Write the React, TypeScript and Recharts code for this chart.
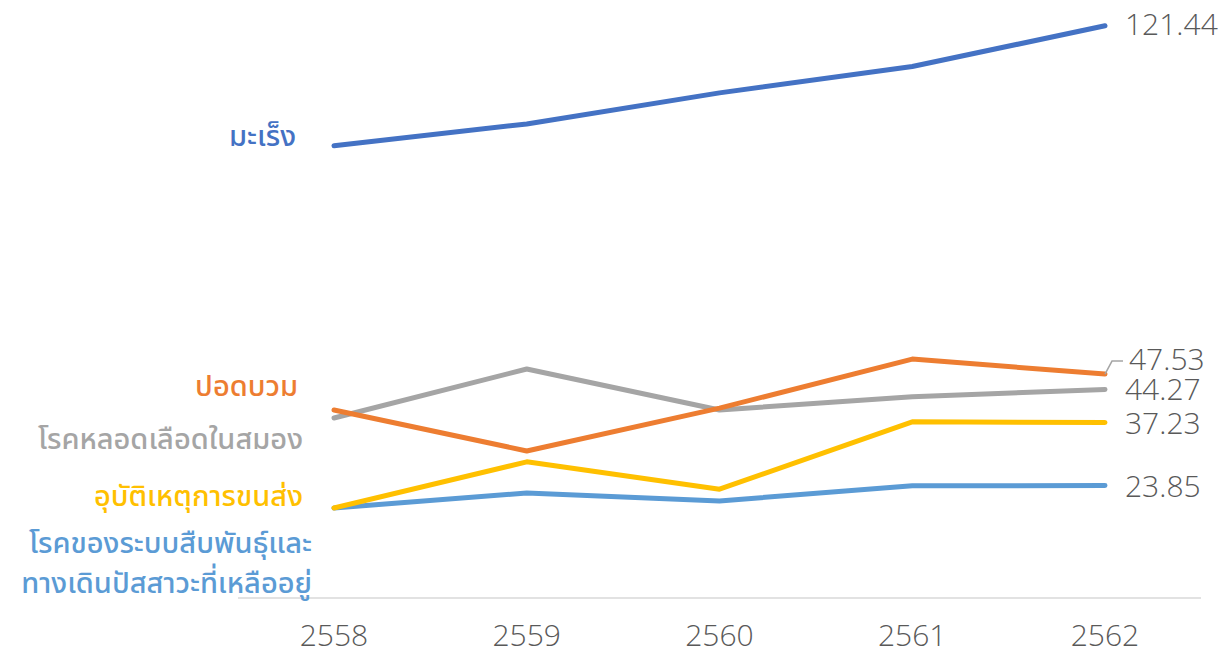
import { LineChart, Line, XAxis, YAxis, LabelList } from 'recharts'

const years = ['2558', '2559', '2560', '2561', '2562']
const cancer = [96.0, 100.6, 107.2, 112.8, 121.44]
const pneumonia = [39.9, 31.2, 40.3, 50.7, 47.53]
const stroke = [38.2, 48.6, 39.9, 42.7, 44.27]
const transportAccident = [19.1, 28.9, 23.1, 37.4, 37.23]
const genitourinary = [19.1, 22.3, 20.6, 23.8, 23.85]

const seriesNames = {
  cancer: ['มะเร็ง'],
  pneumonia: ['ปอดบวม'],
  stroke: ['โรคหลอดเลือดในสมอง'],
  transportAccident: ['อุบัติเหตุการขนส่ง'],
  genitourinary: ['โรคของระบบสืบพันธุ์และ', 'ทางเดินปัสสาวะที่เหลืออยู่'],
}

const data = years.map((year, i) => ({
  year,
  cancer: cancer[i],
  pneumonia: pneumonia[i],
  stroke: stroke[i],
  transportAccident: transportAccident[i],
  genitourinary: genitourinary[i],
}))

// label placement, tuned by eye
const series = [
  { key: 'genitourinary', color: '#5B9BD5', left: { dx: -22, dy: 36 }, right: { dx: 20, dy: 0 } },
  { key: 'transportAccident', color: '#FFC000', left: { dx: -31, dy: -11 }, right: { dx: 20, dy: 0 } },
  { key: 'stroke', color: '#A5A5A5', left: { dx: -31, dy: 22 }, right: { dx: 20, dy: -1 } },
  { key: 'pneumonia', color: '#ED7D31', left: { dx: -36, dy: -23 }, right: { dx: 24, dy: -16, leader: true } },
  { key: 'cancer', color: '#4472C4', left: { dx: -38, dy: -9 }, right: { dx: 20, dy: -2 } },
] as const

const thaiFont = "'Noto Sans Thai', 'Noto Sans', sans-serif"
const numFont = "'Open Sans', sans-serif"
const lastIndex = years.length - 1

function makeLabel(s: (typeof series)[number]) {
  return (props: any) => {
    const { x, y, index, value } = props
    if (index === 0) {
      const lines = seriesNames[s.key]
      return (
        <text
          x={x + s.left.dx}
          y={y + s.left.dy}
          textAnchor="end"
          dominantBaseline="central"
          fontFamily={thaiFont}
          fontWeight={500}
          fontSize={29}
          fill={s.color}
        >
          {lines.map((t, i) => (
            <tspan key={i} x={x + s.left.dx} dy={i === 0 ? 0 : 40}>
              {t}
            </tspan>
          ))}
        </text>
      )
    }
    if (index === lastIndex) {
      const r = s.right as any
      return (
        <g>
          {r.leader && (
            <polyline
              points={`${x},${y} ${x + 7},${y + r.dy + 3} ${x + r.dx - 6},${y + r.dy + 3}`}
              fill="none"
              stroke="#A5A5A5"
              strokeWidth={1.5}
            />
          )}
          <text
            x={x + r.dx}
            y={y + r.dy}
            dominantBaseline="central"
            fontFamily={numFont}
            fontWeight={300}
            fontSize={30}
            fill="#595959"
          >
            {Number(value).toFixed(2)}
          </text>
        </g>
      )
    }
    return null
  }
}

function YearTick(props: any) {
  const { x, y, payload } = props
  return (
    <text
      x={x}
      y={y + 40}
      textAnchor="middle"
      fontFamily={numFont}
      fontWeight={300}
      fontSize={30}
      fill="#595959"
    >
      {payload.value}
    </text>
  )
}

export default function App() {
  return (
    <div style={{ position: 'absolute', left: 0, top: 0, width: 1231, height: 652, background: '#fff' }}>
      <LineChart
        width={1231}
        height={652}
        data={data}
        margin={{ top: 9, right: 30, left: 238, bottom: 0 }}
      >
        <XAxis
          dataKey="year"
          height={54}
          padding={{ left: 96, right: 96 }}
          axisLine={{ stroke: '#D9D9D9', strokeWidth: 1.5 }}
          tickLine={false}
          tick={<YearTick />}
        />
        <YAxis hide domain={[0, 125]} />
        {series.map((s) => (
          <Line
            key={s.key}
            dataKey={s.key}
            stroke={s.color}
            strokeWidth={5}
            strokeLinecap="round"
            strokeLinejoin="round"
            dot={false}
            isAnimationActive={false}
          >
            <LabelList dataKey={s.key} content={makeLabel(s)} />
          </Line>
        ))}
      </LineChart>
    </div>
  )
}
